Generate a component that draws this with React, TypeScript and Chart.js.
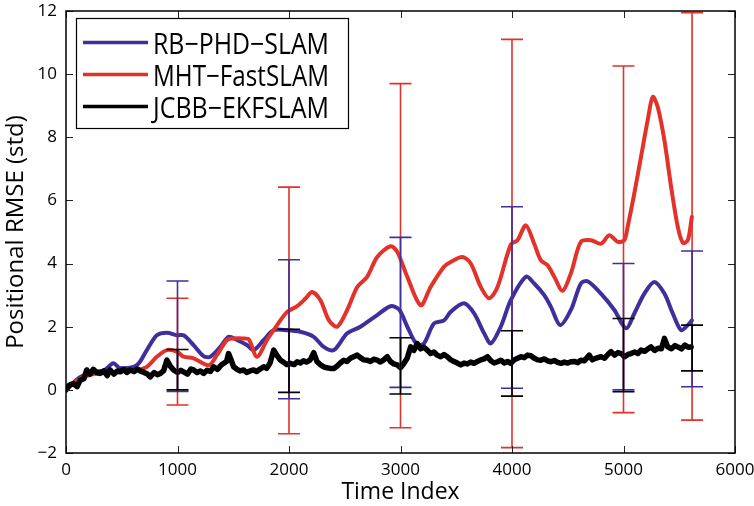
import React, { useEffect, useRef } from "react";
import { Chart, registerables } from "chart.js";

Chart.register(...registerables);

// ---------------- data ----------------
const SERIES_NAMES = ["RB\u2212PHD\u2212SLAM", "MHT\u2212FastSLAM", "JCBB\u2212EKFSLAM"];

const X_TICKS = [0, 1000, 2000, 3000, 4000, 5000, 6000];
const Y_TICKS = [-2, 0, 2, 4, 6, 8, 10, 12];

const RB_X = [0, 126, 245, 340, 425, 485, 635, 725, 815, 905, 995, 1055, 1144, 1234, 1294, 1384, 1458, 1533, 1623, 1683, 1773, 1863, 1983, 2102, 2222, 2312, 2402, 2522, 2641, 2791, 2911, 2986, 3061, 3150, 3210, 3300, 3390, 3450, 3570, 3660, 3750, 3810, 3899, 3989, 4124, 4199, 4289, 4349, 4432, 4528, 4618, 4678, 4798, 4918, 5022, 5097, 5187, 5277, 5367, 5442, 5517, 5577, 5613];
const RB_Y = [0.0, 0.4, 0.57, 0.62, 0.84, 0.69, 0.78, 1.26, 1.73, 1.81, 1.73, 1.73, 1.42, 1.07, 1.05, 1.36, 1.68, 1.58, 1.42, 1.26, 1.58, 1.89, 1.89, 1.84, 1.68, 1.36, 1.26, 1.79, 2.0, 2.37, 2.65, 2.55, 2.0, 1.42, 1.47, 2.1, 2.2, 2.47, 2.74, 2.42, 1.79, 1.47, 2.0, 2.84, 3.58, 3.37, 3.0, 2.63, 2.05, 2.53, 3.37, 3.44, 3.05, 2.53, 1.95, 2.42, 3.05, 3.42, 3.05, 2.42, 1.89, 2.05, 2.2];

const MHT_X = [0, 126, 245, 400, 520, 635, 725, 815, 905, 995, 1055, 1144, 1279, 1354, 1444, 1503, 1593, 1640, 1713, 1803, 1893, 1983, 2073, 2150, 2207, 2282, 2357, 2432, 2522, 2612, 2701, 2791, 2911, 2971, 3061, 3181, 3270, 3390, 3450, 3555, 3630, 3720, 3795, 3870, 3989, 4049, 4124, 4199, 4259, 4319, 4379, 4454, 4528, 4618, 4708, 4798, 4873, 4948, 5007, 5037, 5097, 5157, 5217, 5262, 5307, 5367, 5427, 5487, 5532, 5577, 5613];
const MHT_Y = [0.0, 0.35, 0.5, 0.55, 0.6, 0.63, 0.73, 1.05, 1.26, 1.21, 1.05, 1.0, 0.78, 1.1, 1.58, 1.63, 1.63, 1.6, 1.05, 1.58, 2.05, 2.47, 2.65, 2.9, 3.1, 2.84, 2.21, 2.0, 2.53, 3.26, 3.58, 4.21, 4.55, 4.37, 3.58, 2.68, 3.26, 3.9, 4.05, 4.21, 4.0, 3.26, 2.9, 3.26, 4.6, 4.74, 5.21, 4.63, 4.1, 3.95, 3.58, 3.14, 3.69, 4.69, 4.74, 4.63, 4.9, 4.69, 4.74, 5.16, 6.22, 7.38, 8.54, 9.28, 8.96, 7.9, 6.43, 5.16, 4.66, 4.74, 5.48];

const JCBB_X = [0, 30, 66, 100, 126, 160, 186, 215, 245, 275, 305, 340, 370, 395, 430, 460, 485, 520, 545, 575, 610, 640, 665, 700, 730, 755, 790, 820, 845, 875, 905, 935, 965, 1000, 1030, 1055, 1090, 1120, 1144, 1175, 1205, 1234, 1265, 1295, 1324, 1360, 1390, 1414, 1440, 1458, 1480, 1503, 1530, 1560, 1593, 1620, 1650, 1683, 1710, 1740, 1773, 1800, 1830, 1863, 1890, 1923, 1950, 1980, 2012, 2045, 2073, 2102, 2130, 2160, 2190, 2222, 2250, 2280, 2312, 2340, 2370, 2402, 2430, 2460, 2492, 2520, 2550, 2580, 2612, 2640, 2670, 2701, 2730, 2760, 2791, 2820, 2850, 2881, 2910, 2940, 2971, 3000, 3031, 3060, 3091, 3120, 3150, 3180, 3210, 3240, 3270, 3300, 3330, 3360, 3390, 3420, 3450, 3480, 3510, 3540, 3570, 3600, 3630, 3660, 3690, 3720, 3750, 3780, 3810, 3840, 3870, 3900, 3930, 3960, 3989, 4020, 4050, 4079, 4110, 4140, 4169, 4200, 4230, 4259, 4290, 4320, 4349, 4380, 4410, 4439, 4470, 4500, 4528, 4560, 4590, 4618, 4650, 4693, 4720, 4750, 4798, 4830, 4860, 4888, 4920, 4950, 4978, 5010, 5040, 5067, 5100, 5130, 5157, 5190, 5220, 5247, 5280, 5310, 5340, 5367, 5397, 5430, 5460, 5487, 5520, 5550, 5580, 5607];
const JCBB_Y = [0.0, 0.15, 0.2, 0.1, 0.3, 0.35, 0.63, 0.5, 0.65, 0.55, 0.52, 0.6, 0.45, 0.63, 0.5, 0.6, 0.57, 0.65, 0.55, 0.63, 0.58, 0.66, 0.6, 0.55, 0.5, 0.41, 0.55, 0.48, 0.52, 0.6, 0.94, 0.75, 0.63, 0.55, 0.62, 0.57, 0.5, 0.66, 0.63, 0.55, 0.6, 0.52, 0.62, 0.58, 0.73, 0.65, 0.78, 0.84, 0.9, 1.15, 0.95, 0.73, 0.66, 0.6, 0.63, 0.55, 0.6, 0.63, 0.58, 0.66, 0.73, 0.68, 0.85, 1.26, 1.1, 0.94, 0.88, 0.8, 0.84, 0.8, 0.89, 0.85, 0.92, 0.88, 0.95, 1.18, 0.9, 0.8, 0.73, 0.7, 0.68, 0.68, 0.75, 0.85, 0.94, 0.9, 1.0, 1.05, 1.1, 1.02, 0.95, 0.94, 0.9, 0.97, 0.94, 0.88, 0.95, 1.05, 0.9, 0.82, 0.79, 0.7, 0.84, 1.0, 1.36, 1.25, 1.47, 1.3, 1.35, 1.26, 1.15, 1.2, 1.1, 1.05, 1.12, 1.05, 0.95, 0.9, 0.85, 0.79, 0.85, 0.82, 0.88, 0.84, 0.9, 0.95, 0.98, 1.05, 0.92, 0.85, 0.89, 0.94, 0.85, 0.9, 0.84, 0.95, 1.0, 1.05, 1.02, 1.1, 1.08, 1.0, 0.95, 0.94, 0.98, 0.92, 0.89, 0.93, 0.87, 0.84, 0.88, 0.85, 0.89, 0.9, 0.86, 0.94, 0.92, 1.1, 0.95, 1.0, 1.05, 1.0, 1.12, 1.21, 1.1, 1.18, 1.15, 1.05, 1.12, 1.15, 1.2, 1.15, 1.26, 1.22, 1.3, 1.36, 1.25, 1.32, 1.3, 1.63, 1.36, 1.3, 1.4, 1.36, 1.3, 1.42, 1.35, 1.36];

// error bars (time index, lower, upper)
const ERR_X = [1000, 2000, 3000, 4000, 5000, 5615];
const RB_LO = [-0.05, -0.28, 0.08, 0.05, 0.0, 0.1];
const RB_HI = [3.45, 4.12, 4.83, 5.8, 4.0, 4.4];
const MHT_LO = [-0.48, -1.39, -1.2, -1.83, -0.72, -0.96];
const MHT_HI = [2.9, 6.42, 9.7, 11.1, 10.26, 11.95];
const JCBB_LO = [0.0, -0.08, -0.13, -0.2, -0.06, 0.6];
const JCBB_HI = [1.28, 1.92, 1.65, 1.87, 2.26, 2.05];

// ---------------- styles ----------------
const BLUE = "#3e2f9d";
const RED = "#e2322a";
const BLACK = "#000000";
const TICK_FONT = "'Open Sans', 'DejaVu Sans', sans-serif";
const LEGEND_FONT = "'Liberation Sans Narrow', 'Open Sans', sans-serif";

const toPts = (xs: number[], ys: number[]) => xs.map((x, i) => ({ x, y: ys[i] }));

const errorBarSets = [
  { lo: MHT_LO, hi: MHT_HI, color: RED },
  { lo: RB_LO, hi: RB_HI, color: BLUE },
  { lo: JCBB_LO, hi: JCBB_HI, color: BLACK },
];

const framePlugin = {
  id: "matlabFrame",
  afterDatasetsDraw(chart: any) {
    const ctx = chart.ctx;
    const xs = chart.scales.x;
    const ys = chart.scales.y;
    ctx.save();
    ctx.lineWidth = 1.6;
    ctx.lineCap = "butt";
    errorBarSets.forEach((s) => {
      ctx.strokeStyle = s.color;
      ERR_X.forEach((xv, i) => {
        const px = xs.getPixelForValue(xv);
        const pLo = ys.getPixelForValue(s.lo[i]);
        const pHi = ys.getPixelForValue(s.hi[i]);
        ctx.beginPath();
        ctx.moveTo(px, pLo);
        ctx.lineTo(px, pHi);
        ctx.moveTo(px - 11, pLo);
        ctx.lineTo(px + 11, pLo);
        ctx.moveTo(px - 11, pHi);
        ctx.lineTo(px + 11, pHi);
        ctx.stroke();
      });
    });
    ctx.restore();
  },
  afterDraw(chart: any) {
    const ctx = chart.ctx;
    const { left, right, top, bottom } = chart.chartArea;
    const xs = chart.scales.x;
    const ys = chart.scales.y;
    ctx.save();
    // inward ticks
    ctx.strokeStyle = "#222";
    ctx.lineWidth = 1;
    ctx.beginPath();
    xs.ticks.forEach((t: any) => {
      const px = Math.round(xs.getPixelForValue(t.value)) + 0.5;
      ctx.moveTo(px, bottom);
      ctx.lineTo(px, bottom - 7);
      ctx.moveTo(px, top);
      ctx.lineTo(px, top + 7);
    });
    ys.ticks.forEach((t: any) => {
      const py = Math.round(ys.getPixelForValue(t.value)) + 0.5;
      ctx.moveTo(left, py);
      ctx.lineTo(left + 7, py);
      ctx.moveTo(right, py);
      ctx.lineTo(right - 7, py);
    });
    ctx.stroke();
    // box
    ctx.strokeStyle = "#000";
    ctx.lineWidth = 1.5;
    ctx.strokeRect(left, top, right - left, bottom - top);

    // legend
    const lx = 76, ly = 18, lw = 272, lh = 110;
    ctx.fillStyle = "#fff";
    ctx.fillRect(lx, ly, lw, lh);
    ctx.strokeStyle = "#000";
    ctx.lineWidth = 1.2;
    ctx.strokeRect(lx + 0.5, ly + 0.5, lw, lh);
    ctx.font = `29px ${LEGEND_FONT}`;
    ctx.textAlign = "left";
    ctx.textBaseline = "alphabetic";
    chart.data.datasets.forEach((ds: any, i: number) => {
      const cy = 42.5 + i * 32;
      ctx.strokeStyle = ds.borderColor;
      ctx.lineWidth = 3.5;
      ctx.lineCap = "butt";
      ctx.beginPath();
      ctx.moveTo(83, cy);
      ctx.lineTo(148, cy);
      ctx.stroke();
      ctx.fillStyle = "#000";
      const w = ctx.measureText(ds.label).width;
      const target = 176;
      const sx = w > target + 6 ? target / w : 1;
      ctx.save();
      ctx.translate(153, 54 + i * 32);
      ctx.scale(sx, 1);
      ctx.fillText(ds.label, 0, 0);
      ctx.restore();
    });
    ctx.restore();
  },
};

export default function App() {
  const ref = useRef<HTMLCanvasElement | null>(null);

  useEffect(() => {
    document.body.style.margin = "0";
    const canvas = ref.current;
    if (!canvas) return;
    const chart = new Chart(canvas, {
      type: "line",
      data: {
        datasets: [
          {
            label: SERIES_NAMES[0],
            data: toPts(RB_X, RB_Y),
            borderColor: BLUE,
            borderWidth: 4,
            pointRadius: 0,
            tension: 0.3,
            order: 2,
          },
          {
            label: SERIES_NAMES[1],
            data: toPts(MHT_X, MHT_Y),
            borderColor: RED,
            borderWidth: 4,
            pointRadius: 0,
            tension: 0.3,
            order: 1,
          },
          {
            label: SERIES_NAMES[2],
            data: toPts(JCBB_X, JCBB_Y),
            borderColor: BLACK,
            borderWidth: 5.5,
            pointRadius: 0,
            tension: 0,
            order: 0,
          },
        ],
      },
      options: {
        responsive: false,
        animation: false,
        devicePixelRatio: 1,
        layout: { padding: { top: 11, right: 19, left: 0, bottom: 0 } },
        elements: { line: { borderJoinStyle: "round", borderCapStyle: "round" } },
        plugins: { legend: { display: false }, tooltip: { enabled: false } },
        scales: {
          x: {
            type: "linear",
            min: 0,
            max: 6000,
            grid: { display: false, drawTicks: false },
            border: { display: false },
            afterBuildTicks: (s: any) => {
              s.ticks = X_TICKS.map((v) => ({ value: v }));
            },
            afterFit: (s: any) => {
              s.height = 53;
              s.paddingLeft = 0;
              s.paddingRight = 0;
            },
            ticks: {
              color: "#000",
              padding: 7,
              maxRotation: 0,
              font: { family: TICK_FONT, size: 17 },
              callback: (v: any) => String(v),
            },
            title: {
              display: true,
              text: "Time Index",
              color: "#000",
              padding: { top: 0, bottom: 0 },
              font: { family: TICK_FONT, size: 23 },
            },
          },
          y: {
            type: "linear",
            min: -2,
            max: 12,
            grid: { display: false, drawTicks: false },
            border: { display: false },
            afterBuildTicks: (s: any) => {
              s.ticks = Y_TICKS.map((v) => ({ value: v }));
            },
            afterFit: (s: any) => {
              s.width = 66;
              s.paddingTop = 0;
              s.paddingBottom = 0;
            },
            ticks: {
              color: "#000",
              padding: 9,
              font: { family: TICK_FONT, size: 17 },
              callback: (v: any) => String(v).replace("-", "\u2212"),
            },
            title: {
              display: true,
              text: "Positional RMSE (std)",
              color: "#000",
              padding: { top: 2, bottom: 0 },
              font: { family: TICK_FONT, size: 24 },
            },
          },
        },
      },
      plugins: [framePlugin],
    } as any);
    return () => chart.destroy();
  }, []);

  return (
    <div style={{ width: 754, height: 506, background: "#fff" }}>
      <canvas ref={ref} width={754} height={506} style={{ display: "block" }} />
    </div>
  );
}
